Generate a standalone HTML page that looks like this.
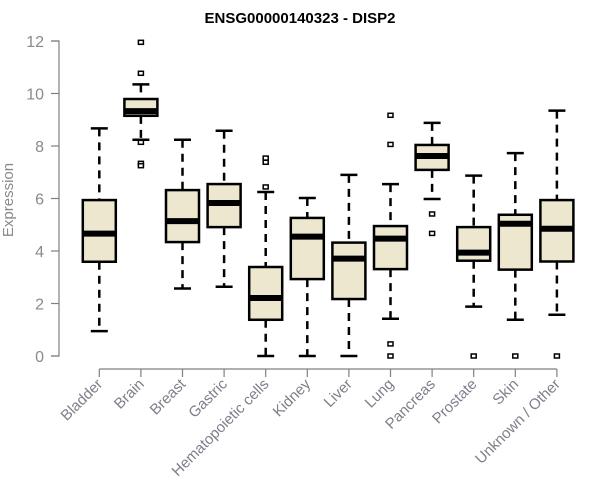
<!DOCTYPE html>
<html><head><meta charset="utf-8"><style>
body{margin:0;background:#fff;}
svg{display:block;font-family:"Liberation Sans",Arial,sans-serif;}
</style></head><body>
<svg id="chart" width="600" height="500"></svg>
<script>
const categories=["Bladder","Brain","Breast","Gastric","Hematopoietic cells","Kidney","Liver","Lung","Pancreas","Prostate","Skin","Unknown / Other"];
const whiskerLow=[0.95,8.24,2.57,2.64,0,0,0,1.42,5.98,1.88,1.38,1.57];
const q1=[3.59,9.15,4.34,4.91,1.38,2.93,2.17,3.31,7.09,3.63,3.29,3.6];
const medians=[4.66,9.33,5.14,5.83,2.21,4.55,3.71,4.47,7.62,3.94,5.04,4.85];
const q3=[5.94,9.79,6.32,6.55,3.39,5.26,4.32,4.95,8.04,4.91,5.38,5.94];
const whiskerHigh=[8.67,10.35,8.24,8.58,6.25,6.02,6.9,6.55,8.88,6.87,7.73,9.35];
const outliers=[[],[11.95,10.77,8.14,7.34,7.25],[],[],[7.54,7.38,6.44],[],[],[9.17,8.06,0.46,0],[5.41,4.67],[0],[0],[0]];
const yTicks=[0,2,4,6,8,10,12];
const NS="http://www.w3.org/2000/svg";
const svg=document.getElementById("chart");
const y=v=>356-v*26.25;
const x=i=>99.3+i*41.6;
function mk(t,a,parent){const e=document.createElementNS(NS,t);for(const k in a)e.setAttribute(k,a[k]);(parent||svg).appendChild(e);return e;}
let t=mk("text",{x:300,y:23,"text-anchor":"middle","font-size":"15","font-weight":"bold",fill:"#000"});
t.textContent="ENSG00000140323 - DISP2";


let ax=mk("path",{d:`M51 ${y(0)}H59V${y(12)}H51`,stroke:"#808080","stroke-width":1.2,fill:"none"});


yTicks.forEach(v=>{
 const l=mk("line",{x1:51,x2:59,y1:y(v),y2:y(v),stroke:"#808080","stroke-width":1.2});
 
 
 const tx=mk("text",{x:44,y:y(v)+6,"text-anchor":"end","font-size":"16",fill:"#8a8a8a"});
 tx.textContent=v;
 
 
});
let yt=mk("text",{transform:"translate(13,200) rotate(-90)","text-anchor":"middle","font-size":"15",fill:"#8a8a8a"});
yt.textContent="Expression";


let xa=mk("line",{x1:x(0),x2:x(11),y1:369,y2:369,stroke:"#808080","stroke-width":1.2});


categories.forEach((c,i)=>{
 const cx=x(i);
 const tk=mk("line",{x1:cx,x2:cx,y1:369,y2:377,stroke:"#808080","stroke-width":1.2});
 
 
 const lb=mk("text",{transform:`translate(${cx+4},${385}) rotate(-45)`,"text-anchor":"end","font-size":"15",fill:"#7d7f8a"});
 lb.textContent=c;
 
 
 const g=mk("g",{});
 
 
 mk("line",{x1:cx,x2:cx,y1:y(whiskerHigh[i]),y2:y(q3[i]),stroke:"#000","stroke-width":2.5,"stroke-dasharray":"8,6"},g);
 mk("line",{x1:cx,x2:cx,y1:y(q1[i]),y2:y(whiskerLow[i]),stroke:"#000","stroke-width":2.5,"stroke-dasharray":"8,6"},g);
 mk("line",{x1:cx-8.5,x2:cx+8.5,y1:y(whiskerHigh[i]),y2:y(whiskerHigh[i]),stroke:"#000","stroke-width":2.5},g);
 mk("line",{x1:cx-8.5,x2:cx+8.5,y1:y(whiskerLow[i]),y2:y(whiskerLow[i]),stroke:"#000","stroke-width":2.5},g);
 mk("rect",{x:cx-16.5,y:y(q3[i]),width:33,height:y(q1[i])-y(q3[i]),fill:"#ede7cf",stroke:"#000","stroke-width":2.5},g);
 mk("line",{x1:cx-16.5,x2:cx+16.5,y1:y(medians[i]),y2:y(medians[i]),stroke:"#000","stroke-width":6},g);
 outliers[i].forEach(o=>{
  const r=mk("rect",{x:cx-2.5,y:y(o)-2,width:5,height:4,fill:"#fff",stroke:"#000","stroke-width":1.5});
  
  
 });
});
</script>
</body></html>
